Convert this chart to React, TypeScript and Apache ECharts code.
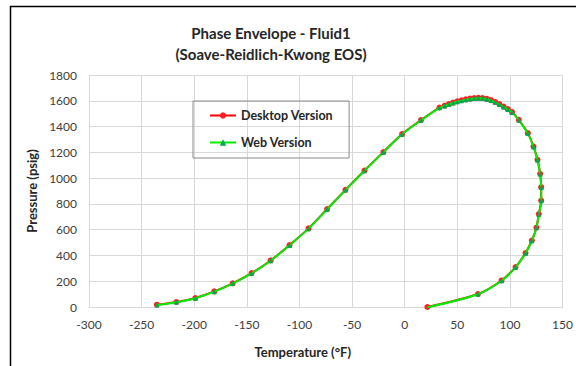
import React, { useEffect, useRef } from "react";
import * as echarts from "echarts";

const titleLines = ["Phase Envelope - Fluid1", "(Soave-Reidlich-Kwong EOS)"];
const xAxisName = "Temperature (°F)";
const yAxisName = "Pressure (psig)";

const desktopTemp = [-235.5, -217, -199, -181, -163.5, -145.5, -127.4, -109.5, -91.4, -73.7, -56.3, -38.2, -20.3, -2.5, 15.5, 33, 38, 42, 46, 50, 54, 58, 62, 66, 70, 74, 78, 82, 86, 90, 94, 98, 102, 108.4, 117, 122.4, 126.2, 128.7, 129.7, 129.7, 127.4, 125.2, 120.8, 114.8, 105.3, 92, 69.6, 21.5];
const desktopPres = [18, 39, 70, 121, 184, 263, 361, 480, 610, 760, 909, 1059, 1202, 1342, 1450, 1548, 1562, 1575, 1586, 1596, 1604, 1611, 1617, 1621, 1623, 1621, 1615, 1605, 1591, 1574, 1555, 1535, 1512, 1452, 1349, 1245, 1142, 1033, 930, 826, 721, 617, 516, 419, 310, 206, 101, 0];

const webTemp = [-235.5, -217, -199, -181, -163.5, -145.5, -127.4, -109.5, -91.4, -73.7, -56.3, -38.2, -20.3, -2.5, 15.5, 33, 38, 42, 46, 50, 54, 58, 62, 66, 70, 74, 78, 82, 86, 90, 94, 98, 102, 108.4, 117, 122.4, 126.2, 128.7, 129.7, 129.7, 127.4, 125.2, 120.8, 114.8, 105.3, 92, 69.6, 21.5];
const webPres = [15, 37, 68, 119, 182, 261, 359, 478, 608, 758, 907, 1057, 1200, 1340, 1448, 1545, 1559, 1572, 1583, 1593, 1601, 1608, 1614, 1618, 1620, 1618, 1612, 1602, 1588, 1571, 1552, 1532, 1510, 1450, 1347, 1243, 1140, 1031, 928, 824, 719, 615, 514, 417, 308, 204, 99, -2];

const seriesNames = ["Desktop Version", "Web Version"];

export default function App() {
  const ref = useRef<HTMLDivElement>(null);
  useEffect(() => {
    if (!ref.current) return;
    const chart = echarts.init(ref.current, null, { renderer: "svg" });
    const font = "Lato, 'Open Sans', sans-serif";
    chart.setOption({
      animation: false,
      backgroundColor: "#ffffff",
      title: {
        text: titleLines.join("\n"),
        left: 266,
        top: 17,
        textAlign: "center",
        textStyle: { fontFamily: font, fontSize: 15, fontWeight: "bold", color: "#262626", lineHeight: 21 },
      },
      legend: {
        orient: "vertical",
        left: 193,
        top: 101,
        padding: [8, 16, 9, 16],
        itemGap: 14,
        itemWidth: 26,
        itemHeight: 8,
        borderColor: "#8c8c8c",
        borderWidth: 1,
        textStyle: { fontFamily: font, fontSize: 12.5, fontWeight: "bold", color: "#262626" },
        data: seriesNames,
      },
      grid: { left: 89, right: 13, top: 75, bottom: 59, containLabel: false },
      xAxis: {
        type: "value",
        min: -300,
        max: 150,
        interval: 50,
        name: xAxisName,
        nameLocation: "middle",
        nameGap: 38,
        nameTextStyle: { fontFamily: font, fontSize: 13, fontWeight: "bold", color: "#262626", padding: [0, 46, 0, 0] },
        axisLine: { show: true, onZero: false, lineStyle: { color: "#d9d9d9" } },
        axisTick: { show: false },
        axisLabel: { fontFamily: font, fontSize: 12, color: "#404040", margin: 11 },
        splitLine: { show: true, lineStyle: { color: "#d9d9d9", width: 1 } },
      },
      yAxis: {
        type: "value",
        min: 0,
        max: 1800,
        interval: 200,
        name: yAxisName,
        nameLocation: "middle",
        nameRotate: 90,
        nameGap: 50,
        nameTextStyle: { fontFamily: font, fontSize: 13, fontWeight: "bold", color: "#262626" },
        axisLine: { show: true, lineStyle: { color: "#d9d9d9" } },
        axisTick: { show: false },
        axisLabel: { fontFamily: font, fontSize: 12, color: "#404040", margin: 12, formatter: (v: number) => String(v) },
        splitLine: { show: true, lineStyle: { color: "#d9d9d9", width: 1 } },
      },
      series: [
        {
          name: seriesNames[0],
          type: "line",
          data: desktopTemp.map((t, i) => [t, desktopPres[i]]),
          smooth: 0.3,
          symbol: "circle",
          symbolSize: 6,
          lineStyle: { color: "#ff0000", width: 2 },
          itemStyle: { color: "#ff2020", borderWidth: 0 },
          z: 2,
        },
        {
          name: seriesNames[1],
          type: "line",
          data: webTemp.map((t, i) => [t, webPres[i]]),
          smooth: 0.3,
          symbol: "triangle",
          symbolSize: 5,
          lineStyle: { color: "#00ee00", width: 2 },
          itemStyle: { color: "#00a84f", borderWidth: 0 },
          z: 3,
        },
      ],
      graphic: [
        {
          type: "rect",
          shape: { x: 10.5, y: 6.5, width: 700, height: 500 },
          style: { fill: "none", stroke: "#000000", lineWidth: 1.5 },
          silent: true,
        },
      ],
    });
    return () => chart.dispose();
  }, []);
  return (
    <div
      ref={ref}
      style={{ position: "fixed", left: 0, top: 0, width: 576, height: 366 }}
    />
  );
}
